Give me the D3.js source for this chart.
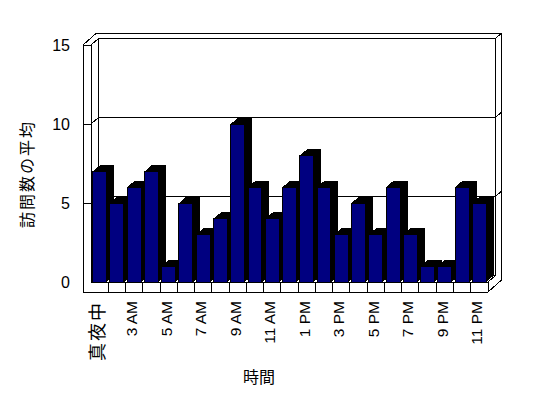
<!DOCTYPE html>
<html>
<head>
<meta charset="utf-8">
<script src="https://cdn.jsdelivr.net/npm/d3@7"></script>
<style>
  body { margin: 0; background: #fff; }
  svg { display: block; }
  text { fill: #000; }
</style>
</head>
<body>
<div id="graf"></div>
<script>
// I. Datos
horas = ['真夜中', '1 AM', '3 AM', '4 AM', '5 AM', '6 AM', '7 AM', '8 AM', '9 AM', '10 AM', '11 AM', '正午',
         '1 PM', '2 PM', '3 PM', '4 PM', '5 PM', '6 PM', '7 PM', '8 PM', '9 PM', '10 PM', '11 PM']
visitas = [7, 5, 6, 7, 1, 5, 3, 4, 10, 6, 4, 6, 8, 6, 3, 5, 3, 6, 3, 1, 1, 6, 5]
ticksY = [0, 5, 10, 15]
tituloY = '訪問数の平均'
tituloX = '時間'

// II. Configuración
ancho_total = 548
alto_total = 398

x0 = 91, x1 = 488          // plano frontal
prof = { x: 7.5, y: -6.5 } // profundidad del piso
grosor = { x: 5.5, y: -5 } // grosor de la pared del fondo
paredIzq = 8               // grosor pared izquierda
piso = 10                  // grosor del piso

svg = d3.select('#graf').append('svg')
        .attr('width', ancho_total)
        .attr('height', alto_total)
        .style('shape-rendering', 'crispEdges')

y = d3.scaleLinear()
      .domain([0, 15])
      .range([282, 45])

x = d3.scaleBand()
      .domain(horas)
      .range([x0, x1])
      .paddingInner(0.19)
      .paddingOuter(0.1)

linea = d3.line()
yTop = y(15), yBase = y(0)
ox = prof.x + grosor.x, oy = prof.y + grosor.y

// III. Paredes
caja = svg.append('g').attr('fill', 'none').attr('stroke', '#000')

caja.append('path')
    .attr('fill', '#fff')
    .attr('d', linea([[x0 - paredIzq, yTop], [x0 - paredIzq + ox, yTop + oy], [x1 + ox, yTop + oy],
                      [x1 + ox, yBase + piso + oy], [x1, yBase + piso], [x0 - paredIzq, yBase + piso]]) + 'Z')

caja.append('rect')
    .attr('x', x0 + prof.x).attr('y', yTop + prof.y)
    .attr('width', x1 - x0).attr('height', yBase - yTop)

segs = [
  [[x0 - paredIzq, yTop], [x0, yTop]],
  [[x0, yTop], [x0, yBase]],
  [[x0, yTop], [x0 + prof.x, yTop + prof.y]],
  [[x1 + prof.x, yTop + prof.y], [x1 + ox, yTop + oy]],
  [[x0, yBase], [x1, yBase]],
  [[x0, yBase], [x0 + prof.x, yBase + prof.y]],
  [[x1, yBase], [x1 + prof.x, yBase + prof.y]],
  [[x1, yBase], [x1, yBase + piso]]
]
caja.selectAll('path.seg')
    .data(segs)
    .enter().append('path')
      .attr('class', 'seg')
      .attr('d', d => linea(d))

// líneas de la cuadrícula
grid = ticksY.filter(v => v > 0 && v < 15)
grid.forEach(v => {
  yy = y(v)
  caja.append('path').attr('d', linea([[x0 - paredIzq, yy], [x0, yy], [x0 + prof.x, yy + prof.y], [x1 + prof.x, yy + prof.y], [x1 + ox, yy + oy]]))
})

// divisiones del piso
caja.selectAll('path.div')
    .data(horas.slice(1))
    .enter().append('path')
      .attr('class', 'div')
      .attr('d', d => {
        xx = x(d) - x.step() * x.paddingInner() / 2
        return linea([[xx, yBase], [xx, yBase + piso]])
      })

// IV. Barras
barras = svg.append('g')
w = x.bandwidth()
horas.forEach((h, i) => {
  v = visitas[i]
  bx = x(h), by = y(v)
  barras.append('path')
        .attr('fill', '#000')
        .attr('d', linea([[bx, by], [bx + prof.x, by + prof.y], [bx + w + prof.x, by + prof.y],
                          [bx + w + prof.x, yBase + prof.y], [bx + w, yBase]]) + 'Z')
  barras.append('rect')
        .attr('x', bx).attr('y', by)
        .attr('width', w).attr('height', yBase - by)
        .attr('fill', '#000080')
        .attr('stroke', '#000')
})

// V. Textos
svg.append('g')
   .selectAll('text')
   .data(ticksY)
   .enter().append('text')
     .attr('x', 70)
     .attr('y', d => y(d))
     .attr('dy', '0.35em')
     .attr('text-anchor', 'end')
     .style('font', '16px "Liberation Sans", Arial, sans-serif')
     .text(d => d)

svg.append('g')
   .selectAll('text')
   .data(horas.filter((d, i) => i % 2 == 0))
   .enter().append('text')
     .attr('transform', d => `translate(${x(d) + w / 2 - 2.5}, 301) rotate(-90)`)
     .attr('dy', '0.35em')
     .attr('text-anchor', 'end')
     .style('font-family', '"Liberation Sans", "Noto Sans CJK JP", sans-serif')
     .style('font-size', d => /[^\x00-\x7F]/.test(d) ? '18px' : '15.5px')
     .style('letter-spacing', d => /[^\x00-\x7F]/.test(d) ? '2px' : null)
     .text(d => d)

svg.append('text')
   .attr('x', 259)
   .attr('y', 377)
   .attr('dy', '0.35em')
   .attr('text-anchor', 'middle')
   .style('font', '16px "Noto Sans CJK JP", sans-serif')
   .text(tituloX)

svg.append('text')
   .attr('transform', 'translate(27, 174) rotate(-90)')
   .attr('dy', '0.35em')
   .attr('text-anchor', 'middle')
   .style('font', '16px "Noto Sans CJK JP", sans-serif')
   .style('letter-spacing', '2px')
   .text(tituloY)
</script>
</body>
</html>
